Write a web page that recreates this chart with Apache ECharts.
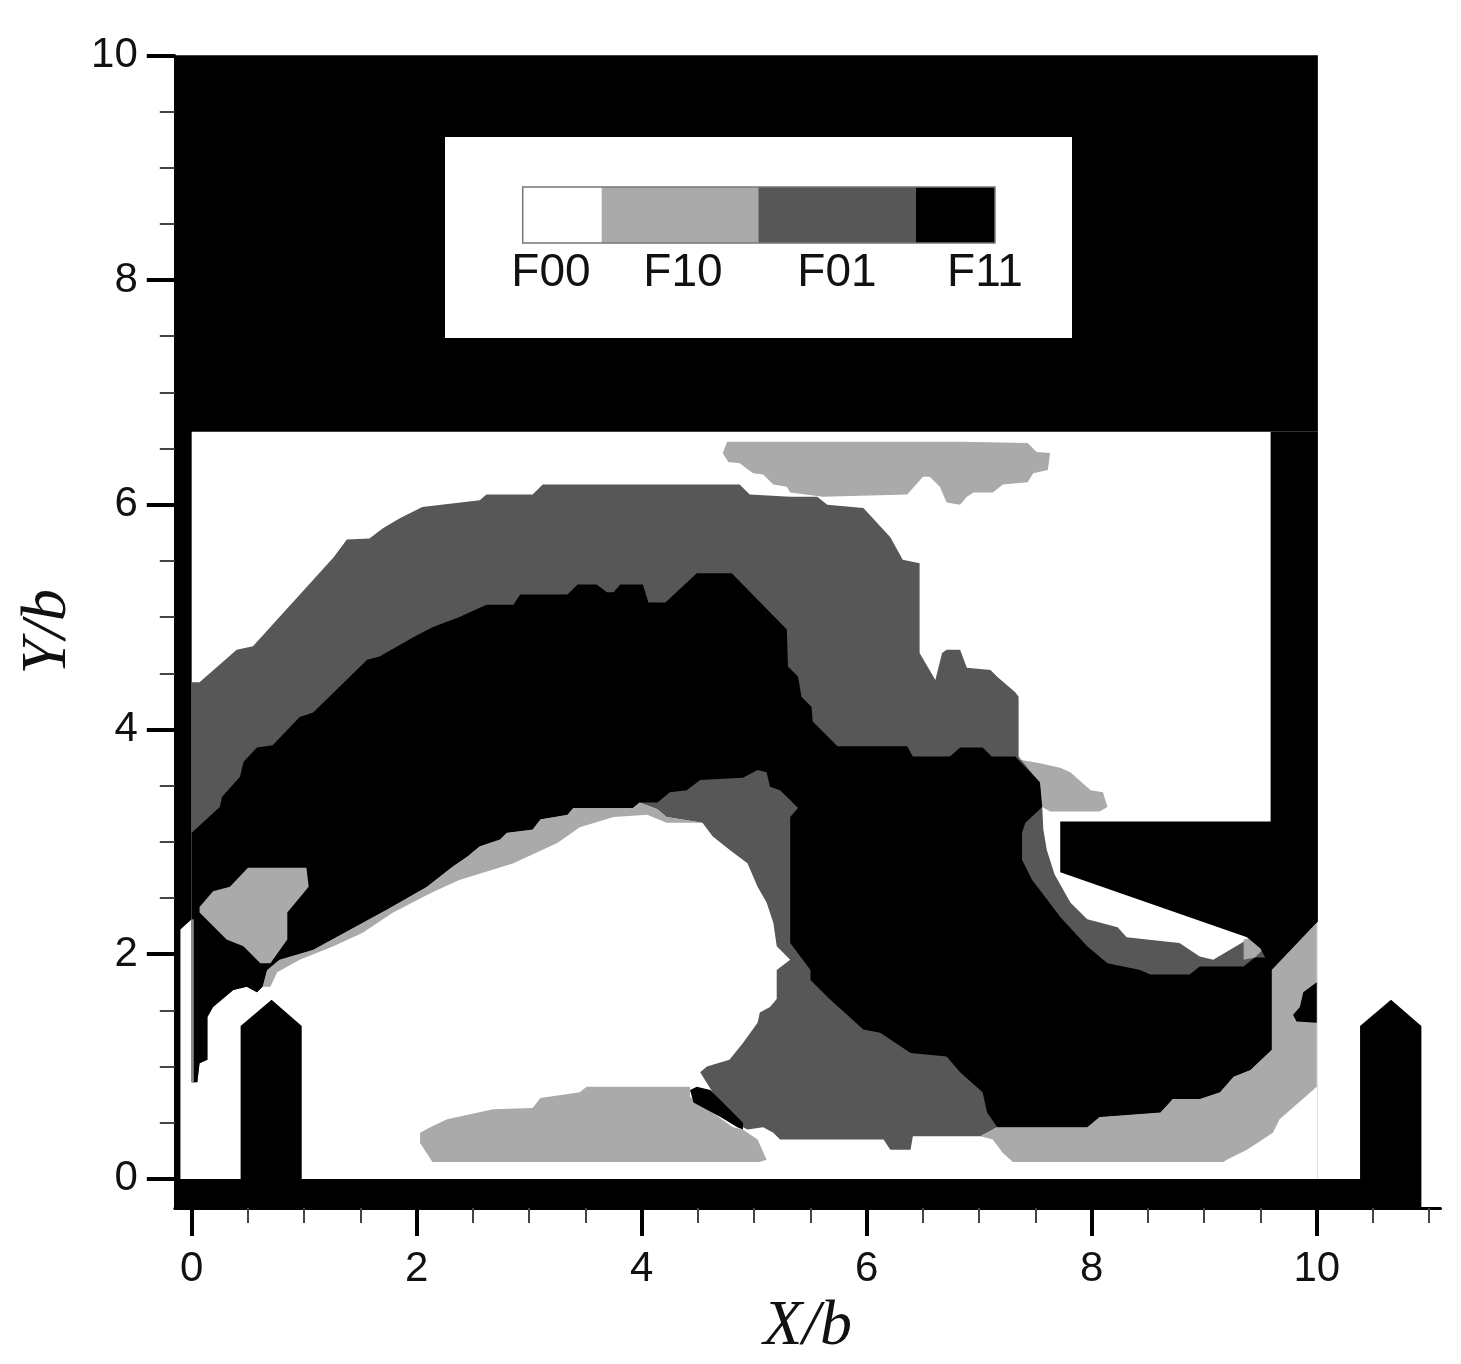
<!DOCTYPE html>
<html><head><meta charset="utf-8">
<script src="https://cdn.jsdelivr.net/npm/echarts@6/dist/echarts.min.js"></script>
<style>html,body{margin:0;padding:0;background:#fff}#c{width:1461px;height:1364px}</style>
</head><body><div id="c"></div>
<script>
// ---- axis ticks ----
const xMajorTicks = [0, 2, 4, 6, 8, 10];
const xMinorTicks = [0.5, 1, 1.5, 2.5, 3, 3.5, 4.5, 5, 5.5, 6.5, 7, 7.5, 8.5, 9, 9.5, 10.5, 11];
const yMajorTicks = [0, 2, 4, 6, 8, 10];
const yMinorTicks = [0.5, 1, 1.5, 2.5, 3, 3.5, 4.5, 5, 5.5, 6.5, 7, 7.5, 8.5, 9, 9.5];

// ---- legend ----
const legendNames = ['F00', 'F10', 'F01', 'F11'];

// ---- regions (X/b, Y/b) ----
const frameBlack = [[-0.15, -0.26], [10.01, -0.26], [10.01, 10], [-0.15, 10]];
const domainWhite = [[-0.10, 0], [10.01, 0], [10.01, 6.65], [0, 6.65], [0, 2.31], [-0.10, 2.22]];

const f01Envelope = [
  [0, 4.42], [0.07, 4.42], [0.40, 4.71], [0.545, 4.74], [1.26, 5.53], [1.38, 5.69], [1.58, 5.70], [1.70, 5.79],
  [1.85, 5.88], [2.05, 5.98], [2.56, 6.04], [2.62, 6.09], [3.03, 6.09], [3.12, 6.18], [4.87, 6.18], [4.96, 6.09],
  [5.32, 6.07], [5.56, 6.07], [5.65, 6.00], [5.97, 5.97], [6.21, 5.71], [6.32, 5.51], [6.47, 5.48], [6.47, 4.68],
  [6.61, 4.44], [6.67, 4.68], [6.71, 4.71], [6.83, 4.71], [6.89, 4.55], [7.10, 4.53], [7.16, 4.47], [7.32, 4.33],
  [7.35, 4.29], [7.35, 3.76], [7.54, 3.53], [7.56, 3.31], [7.57, 3.11], [7.60, 2.93], [7.67, 2.71], [7.81, 2.46],
  [7.96, 2.31], [8.23, 2.24], [8.31, 2.15], [8.49, 2.13], [8.78, 2.10], [8.96, 1.98], [9.08, 1.95], [9.35, 2.11],
  [9.50, 2.07], [9.60, 1.95], [9.60, 1.15], [9.41, 0.97], [9.26, 0.91], [9.14, 0.77], [8.96, 0.71], [8.72, 0.71],
  [8.61, 0.59], [8.07, 0.55], [7.96, 0.46], [7.16, 0.46], [7.01, 0.38], [6.41, 0.38], [6.39, 0.26], [6.21, 0.26],
  [6.15, 0.35], [5.23, 0.35], [5.17, 0.41], [5.08, 0.46], [4.94, 0.44], [4.90, 0.46], [4.63, 0.77], [4.52, 0.95],
  [4.58, 1.00], [4.78, 1.06], [4.90, 1.21], [5.03, 1.39], [5.05, 1.48], [5.14, 1.53], [5.20, 1.60], [5.20, 1.86],
  [5.32, 1.95], [5.20, 2.07], [5.17, 2.28], [5.11, 2.46], [5.03, 2.60], [4.94, 2.81], [4.78, 2.93], [4.63, 3.05],
  [4.54, 3.17], [4.22, 3.22], [4.14, 3.29], [3.98, 3.35], [3.92, 3.30], [3.39, 3.30], [3.34, 3.24], [3.10, 3.20],
  [3.03, 3.11], [2.80, 3.08], [2.74, 3.02], [2.56, 2.96], [2.45, 2.87], [2.32, 2.78], [2.09, 2.60], [1.74, 2.40],
  [1.41, 2.22], [1.08, 2.04], [0.78, 1.95], [0.67, 1.86], [0.63, 1.71], [0.58, 1.66], [0.49, 1.71], [0.37, 1.68],
  [0.19, 1.53], [0.14, 1.44], [0.14, 1.06], [0.07, 1.03], [0.05, 0.86], [0, 0.86]
];

const f10Top = [
  [4.76, 6.56], [4.72, 6.46], [4.77, 6.38], [4.87, 6.37], [4.99, 6.28], [5.08, 6.27], [5.17, 6.18], [5.29, 6.16],
  [5.32, 6.11], [5.61, 6.07], [6.36, 6.09], [6.50, 6.25], [6.56, 6.25], [6.65, 6.16], [6.71, 6.02], [6.83, 6.00],
  [6.89, 6.07], [6.95, 6.11], [7.12, 6.11], [7.21, 6.18], [7.43, 6.20], [7.48, 6.28], [7.61, 6.31], [7.63, 6.46],
  [7.51, 6.47], [7.43, 6.55], [6.83, 6.56]
];

const f10Rim = [
  [0.70, 1.71], [0.76, 1.84], [0.96, 1.95], [1.26, 2.07], [1.52, 2.19], [1.79, 2.37], [2.14, 2.55], [2.38, 2.66],
  [2.86, 2.81], [3.25, 2.99], [3.45, 3.13], [3.75, 3.22], [4.05, 3.24], [4.22, 3.17], [4.54, 3.17], [4.22, 3.22],
  [4.14, 3.29], [3.98, 3.35], [3.92, 3.30], [3.39, 3.30], [3.34, 3.24], [3.10, 3.20], [3.03, 3.11], [2.80, 3.08],
  [2.74, 3.02], [2.56, 2.96], [2.45, 2.87], [2.32, 2.78], [2.09, 2.60], [1.74, 2.40], [1.41, 2.22], [1.08, 2.04],
  [0.78, 1.95], [0.67, 1.86], [0.63, 1.71]
];

const f10Right = [
  [10.00, 2.28], [10.00, 0.82], [9.67, 0.53], [9.61, 0.41], [9.38, 0.26], [9.20, 0.17], [9.17, 0.15], [7.30, 0.15],
  [7.21, 0.23], [7.12, 0.35], [7.01, 0.38], [7.16, 0.46], [7.96, 0.46], [8.07, 0.55], [8.61, 0.59], [8.72, 0.71],
  [8.96, 0.71], [9.14, 0.77], [9.26, 0.91], [9.41, 0.97], [9.60, 1.15], [9.60, 1.86]
];

const f10Step = [
  [7.35, 3.76], [7.36, 3.73], [7.54, 3.70], [7.72, 3.66], [7.81, 3.62], [7.99, 3.46], [8.10, 3.44], [8.14, 3.31],
  [8.07, 3.27], [7.63, 3.27], [7.56, 3.31], [7.54, 3.53]
];

const f11Core = [
  [0, 3.08], [0.25, 3.31], [0.27, 3.40], [0.43, 3.58], [0.46, 3.71], [0.58, 3.84], [0.72, 3.86], [0.96, 4.11],
  [1.08, 4.15], [1.56, 4.62], [1.67, 4.65], [1.97, 4.82], [2.14, 4.91], [2.38, 5.00], [2.62, 5.11], [2.86, 5.11],
  [2.92, 5.20], [3.34, 5.20], [3.43, 5.29], [3.60, 5.29], [3.69, 5.22], [3.75, 5.22], [3.81, 5.29], [4.01, 5.29],
  [4.06, 5.13], [4.21, 5.13], [4.49, 5.39], [4.80, 5.39], [5.29, 4.89], [5.30, 4.56], [5.39, 4.47], [5.42, 4.29],
  [5.51, 4.20], [5.52, 4.07], [5.74, 3.85], [6.36, 3.85], [6.41, 3.76], [6.74, 3.76], [6.83, 3.84], [7.03, 3.84],
  [7.11, 3.76], [7.32, 3.76], [7.54, 3.53], [7.56, 3.31], [7.41, 3.17], [7.38, 3.08], [7.38, 2.84], [7.47, 2.66],
  [7.60, 2.49], [7.72, 2.33], [7.96, 2.07], [8.14, 1.92], [8.43, 1.86], [8.52, 1.82], [8.87, 1.82], [8.96, 1.89],
  [9.35, 1.89], [9.45, 1.97], [9.60, 1.97], [9.60, 1.15], [9.41, 0.97], [9.26, 0.91], [9.14, 0.77], [8.96, 0.71],
  [8.72, 0.71], [8.61, 0.59], [8.07, 0.55], [7.96, 0.46], [7.16, 0.46], [7.07, 0.59], [7.03, 0.77], [6.83, 0.95],
  [6.71, 1.09], [6.39, 1.12], [6.12, 1.30], [5.97, 1.33], [5.67, 1.60], [5.50, 1.77], [5.50, 1.86], [5.41, 1.98],
  [5.32, 2.10], [5.32, 3.22], [5.39, 3.30], [5.29, 3.40], [5.23, 3.46], [5.14, 3.49], [5.11, 3.62], [5.03, 3.64],
  [4.90, 3.57], [4.52, 3.55], [4.40, 3.46], [4.25, 3.44], [4.14, 3.35], [3.98, 3.35], [3.92, 3.30], [3.39, 3.30],
  [3.34, 3.24], [3.10, 3.20], [3.03, 3.11], [2.80, 3.08], [2.74, 3.02], [2.56, 2.96], [2.45, 2.87], [2.32, 2.78],
  [2.09, 2.60], [1.74, 2.40], [1.41, 2.22], [1.08, 2.04], [0.78, 1.95], [0.67, 1.86], [0.63, 1.71], [0.58, 1.66],
  [0.49, 1.71], [0.37, 1.68], [0.19, 1.53], [0.14, 1.44], [0.14, 1.06], [0.07, 1.03], [0.05, 0.86], [0, 0.86]
];

const f10Left = [
  [0.07, 2.42], [0.19, 2.56], [0.34, 2.60], [0.50, 2.77], [1.02, 2.77], [1.04, 2.60], [0.85, 2.37], [0.85, 2.13],
  [0.70, 1.92], [0.61, 1.92], [0.46, 2.07], [0.31, 2.13], [0.07, 2.37]
];

const f10Bottom = [
  [2.03, 0.41], [2.12, 0.46], [2.27, 0.53], [2.68, 0.62], [3.03, 0.63], [3.10, 0.72], [3.45, 0.77], [3.51, 0.82],
  [4.43, 0.82], [4.43, 0.73], [4.63, 0.59], [4.81, 0.46], [4.90, 0.44], [5.03, 0.35], [5.11, 0.17], [5.05, 0.15],
  [2.14, 0.15], [2.03, 0.32]
];

const f11BlobLow = [
  [4.43, 0.79], [4.49, 0.82], [4.61, 0.79], [4.81, 0.59], [4.90, 0.50], [4.90, 0.44], [4.85, 0.46], [4.70, 0.55], [4.46, 0.68]
];
const f11BlobRight = [[10.00, 1.75], [9.88, 1.66], [9.85, 1.53], [9.79, 1.46], [9.82, 1.40], [10.00, 1.39]];
const f10Tip = [[9.35, 2.13], [9.43, 2.15], [9.52, 2.04], [9.45, 1.97], [9.35, 1.95]];

// solid walls (blank)
const wallBlock = [[7.72, 3.18], [9.59, 3.18], [9.59, 6.65], [10.01, 6.65], [10.01, 2.29], [9.60, 1.86], [9.50, 2.05], [9.38, 2.15], [7.72, 2.73]];
const groundBar = [[-0.15, -0.26], [10.93, -0.26], [10.93, 0], [-0.15, 0]];
const buildingLeft = [[0.435, 0], [0.435, 1.36], [0.71, 1.595], [0.978, 1.36], [0.978, 0]];
const buildingRight = [[10.385, 0], [10.385, 1.36], [10.66, 1.595], [10.93, 1.36], [10.93, 0]];
// thin domain edge line on the left
const domainEdgeLine = [[0.01, 0.86], [0.01, 2.31]];

const C_F00 = '#ffffff', C_F10 = '#aaaaaa', C_F01 = '#575757', C_F11 = '#000000';
const legendColors = [C_F00, C_F10, C_F01, C_F11];

const layers = [
  { pts: frameBlack, color: C_F11 },
  { pts: domainWhite, color: C_F00 },
  { pts: f01Envelope, color: C_F01 },
  { pts: f10Top, color: C_F10 },
  { pts: f10Rim, color: C_F10 },
  { pts: f10Right, color: C_F10 },
  { pts: f10Step, color: C_F10 },
  { pts: f11Core, color: C_F11 },
  { pts: f10Left, color: C_F10 },
  { pts: f10Bottom, color: C_F10 },
  { pts: f11BlobLow, color: C_F11 },
  { pts: f11BlobRight, color: C_F11 },
  { pts: f10Tip, color: C_F10 },
  { pts: wallBlock, color: C_F11 },
  { pts: groundBar, color: C_F11 },
  { pts: buildingLeft, color: C_F11 },
  { pts: buildingRight, color: C_F11 },
  { pts: domainEdgeLine, color: '#888', line: true }
];

const chart = echarts.init(document.getElementById('c'), null, { renderer: 'canvas' });

const labelFont = { fontFamily: 'Liberation Sans, Arial, sans-serif', fontSize: 42, color: '#111' };
const nameFont = { fontFamily: 'Liberation Serif, Times New Roman, serif', fontStyle: 'italic', fontSize: 64, color: '#111' };

// legend (drawn as graphic)
const lgX0 = 522.7, lgW = [79, 156.6, 157.7, 79];
const legendGraphics = [{ type: 'rect', shape: { x: 445, y: 137, width: 627, height: 201 }, style: { fill: '#fff' } }];
let cx = lgX0;
const labelCenters = [551, 683, 837, 985];
legendNames.forEach((n, i) => {
  legendGraphics.push({ type: 'rect', shape: { x: cx, y: 187, width: lgW[i], height: 56 }, style: { fill: legendColors[i] } });
  legendGraphics.push({ type: 'text', x: labelCenters[i], y: 273, style: { text: n, fill: '#111', font: '46px "Liberation Sans", Arial, sans-serif', textAlign: 'center', textVerticalAlign: 'middle' } });
  cx += lgW[i];
});
legendGraphics.push({ type: 'rect', shape: { x: lgX0, y: 187, width: 472.3, height: 56 }, style: { fill: 'none', stroke: '#777', lineWidth: 1.5 } });

chart.setOption({
  animation: false,
  backgroundColor: '#fff',
  grid: { left: 174.8, top: 55.3, width: 1265.7, height: 1153.2, containLabel: false },
  xAxis: [
    {
      type: 'value', min: -0.15, max: 11.1, position: 'bottom', z: 10,
      name: 'X/b', nameLocation: 'middle', nameGap: 83, nameTextStyle: nameFont,
      axisLine: { show: true, onZero: false, lineStyle: { color: '#000', width: 3 } },
      axisTick: { show: true, inside: false, length: 28, customValues: xMajorTicks, lineStyle: { color: '#000', width: 4 } },
      axisLabel: { show: true, margin: 40, customValues: xMajorTicks, formatter: v => String(v), ...labelFont },
      splitLine: { show: false }
    },
    {
      type: 'value', min: -0.15, max: 11.1, position: 'bottom', gridIndex: 0, z: 10,
      axisLine: { show: false, onZero: false },
      axisTick: { show: true, inside: false, length: 15, customValues: xMinorTicks, lineStyle: { color: '#444', width: 2 } },
      axisLabel: { show: false },
      splitLine: { show: false }
    }
  ],
  yAxis: [
    {
      type: 'value', min: -0.26, max: 10, position: 'left', z: 10,
      name: 'Y/b', nameLocation: 'middle', nameGap: 83, nameTextStyle: nameFont,
      axisLine: { show: true, onZero: false, lineStyle: { color: '#000', width: 2 } },
      axisTick: { show: true, inside: false, length: 28, customValues: yMajorTicks, lineStyle: { color: '#000', width: 4 } },
      axisLabel: { show: true, margin: 37, customValues: yMajorTicks, formatter: v => String(v), ...labelFont },
      splitLine: { show: false }
    },
    {
      type: 'value', min: -0.26, max: 10, position: 'left', gridIndex: 0, z: 10,
      axisLine: { show: false, onZero: false },
      axisTick: { show: true, inside: false, length: 15, customValues: yMinorTicks, lineStyle: { color: '#444', width: 2 } },
      axisLabel: { show: false },
      splitLine: { show: false }
    }
  ],
  series: [{
    type: 'custom',
    coordinateSystem: 'cartesian2d',
    xAxisIndex: 0, yAxisIndex: 0,
    silent: true,
    clip: false,
    data: layers.map(() => [0, 0]),
    renderItem: function (params, api) {
      const L = layers[params.dataIndex];
      const pts = L.pts.map(p => api.coord(p));
      if (L.line) {
        return { type: 'polyline', shape: { points: pts }, style: { stroke: L.color, lineWidth: 2, fill: null } };
      }
      return { type: 'polygon', shape: { points: pts }, style: { fill: L.color } };
    },
    z: 1
  }],
  graphic: { elements: legendGraphics.map(g => Object.assign({ z: 100 }, g)) }
});
</script>
</body></html>
